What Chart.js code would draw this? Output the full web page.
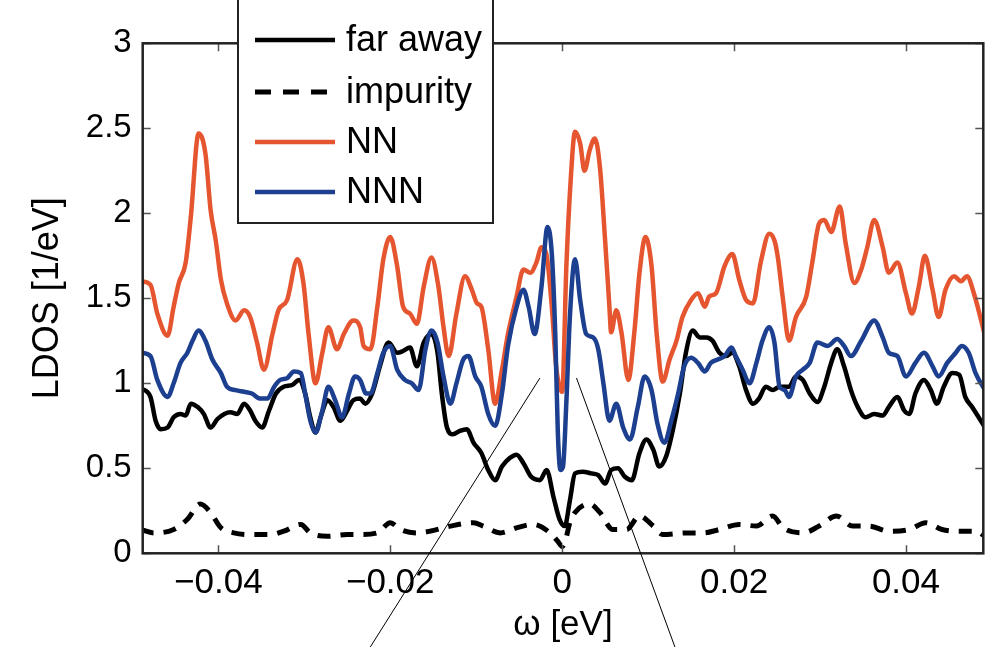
<!DOCTYPE html>
<html>
<head>
<meta charset="utf-8">
<script src="https://cdn.jsdelivr.net/npm/chart.js@4/dist/chart.umd.min.js"></script>
<style>
  html, body { margin: 0; padding: 0; background: #fff; }
  #wrap { width: 1000px; height: 647px; }
</style>
</head>
<body>
<div id="wrap"><canvas id="myChart" width="1000" height="647"></canvas></div>
<script>
// omega [eV] and LDOS [1/eV] for each curve
const omegaFar = [
  -0.0490, -0.0479, -0.0473, -0.0467, -0.0459, -0.0452, -0.0444, -0.0438, -0.0432, -0.0424,
  -0.0417, -0.0409, -0.0401, -0.0393, -0.0386, -0.0378, -0.0370, -0.0363, -0.0357, -0.0349,
  -0.0341, -0.0333, -0.0324, -0.0314, -0.0306, -0.0299, -0.0293, -0.0287, -0.0281, -0.0273,
  -0.0266, -0.0258, -0.0250, -0.0243, -0.0235, -0.0229, -0.0221, -0.0212, -0.0202, -0.0192,
  -0.0185, -0.0177, -0.0169, -0.0161, -0.0152, -0.0145, -0.0140, -0.0134, -0.0127, -0.0119,
  -0.0111, -0.0103, -0.0094, -0.0086, -0.0078, -0.0070, -0.0061, -0.0053, -0.0045, -0.0036,
  -0.0026, -0.0018, -0.0010, -0.0003, 0.0003, 0.0009, 0.0015, 0.0024, 0.0034, 0.0042,
  0.0050, 0.0057, 0.0065, 0.0073, 0.0081, 0.0090, 0.0098, 0.0106, 0.0113, 0.0121,
  0.0129, 0.0137, 0.0144, 0.0152, 0.0160, 0.0168, 0.0175, 0.0183, 0.0191, 0.0198,
  0.0206, 0.0214, 0.0222, 0.0229, 0.0237, 0.0245, 0.0253, 0.0264, 0.0272, 0.0280,
  0.0288, 0.0297, 0.0305, 0.0313, 0.0320, 0.0328, 0.0336, 0.0344, 0.0353, 0.0363,
  0.0373, 0.0380, 0.0390, 0.0398, 0.0404, 0.0411, 0.0421, 0.0429, 0.0436, 0.0444,
  0.0454, 0.0462, 0.0469, 0.0477, 0.0492
];
const ldosFar = [
  0.97, 0.92, 0.78, 0.73, 0.74, 0.80, 0.82, 0.81, 0.88, 0.86,
  0.82, 0.74, 0.79, 0.82, 0.83, 0.82, 0.88, 0.84, 0.78, 0.74,
  0.84, 0.94, 0.98, 0.99, 1.02, 0.94, 0.80, 0.71, 0.80, 0.90,
  0.86, 0.78, 0.84, 0.90, 0.91, 0.88, 0.94, 1.10, 1.24, 1.18,
  1.19, 1.21, 1.10, 1.24, 1.29, 1.18, 0.94, 0.74, 0.70, 0.72,
  0.73, 0.65, 0.59, 0.49, 0.43, 0.51, 0.56, 0.58, 0.53, 0.45,
  0.43, 0.49, 0.33, 0.20, 0.16, 0.31, 0.47, 0.48, 0.47, 0.46,
  0.41, 0.49, 0.50, 0.45, 0.43, 0.59, 0.67, 0.61, 0.51, 0.57,
  0.73, 0.94, 1.18, 1.31, 1.27, 1.27, 1.25, 1.18, 1.16, 1.18,
  1.10, 0.96, 0.88, 0.91, 0.98, 0.96, 0.98, 0.98, 1.04, 1.02,
  0.94, 0.89, 0.98, 1.12, 1.20, 1.10, 0.96, 0.86, 0.80, 0.82,
  0.81, 0.86, 0.92, 0.84, 0.82, 0.94, 1.02, 0.96, 0.88, 0.98,
  1.06, 1.05, 0.92, 0.86, 0.74
];

const omegaImp = [
  -0.0490, -0.0475, -0.0452, -0.0436, -0.0421, -0.0409, -0.0397, -0.0382, -0.0363, -0.0339,
  -0.0324, -0.0304, -0.0293, -0.0273, -0.0250, -0.0235, -0.0215, -0.0200, -0.0188, -0.0169,
  -0.0154, -0.0130, -0.0103, -0.0092, -0.0072, -0.0053, -0.0034, -0.0014, -0.0005, 0.0000,
  0.0004, 0.0009, 0.0015, 0.0032, 0.0044, 0.0059, 0.0075, 0.0090, 0.0106, 0.0117,
  0.0144, 0.0164, 0.0183, 0.0206, 0.0226, 0.0245, 0.0257, 0.0280, 0.0299, 0.0319,
  0.0338, 0.0357, 0.0380, 0.0404, 0.0423, 0.0442, 0.0462, 0.0481, 0.0492
];
const ldosImp = [
  0.14, 0.12, 0.14, 0.20, 0.29, 0.24, 0.15, 0.12, 0.11, 0.11,
  0.13, 0.17, 0.12, 0.10, 0.11, 0.11, 0.12, 0.18, 0.14, 0.12,
  0.13, 0.16, 0.18, 0.16, 0.12, 0.15, 0.17, 0.12, 0.07, 0.04,
  0.08, 0.18, 0.24, 0.29, 0.24, 0.14, 0.14, 0.22, 0.16, 0.11,
  0.12, 0.12, 0.14, 0.17, 0.16, 0.22, 0.15, 0.12, 0.16, 0.22,
  0.16, 0.16, 0.13, 0.14, 0.18, 0.14, 0.13, 0.13, 0.10
];

const omegaNN = [
  -0.0490, -0.0479, -0.0471, -0.0459, -0.0452, -0.0446, -0.0438, -0.0432, -0.0423, -0.0415,
  -0.0409, -0.0403, -0.0397, -0.0390, -0.0380, -0.0370, -0.0363, -0.0355, -0.0347, -0.0337,
  -0.0330, -0.0320, -0.0308, -0.0301, -0.0295, -0.0287, -0.0279, -0.0272, -0.0262, -0.0254,
  -0.0243, -0.0235, -0.0231, -0.0223, -0.0215, -0.0208, -0.0200, -0.0192, -0.0185, -0.0177,
  -0.0169, -0.0161, -0.0152, -0.0144, -0.0138, -0.0132, -0.0123, -0.0113, -0.0105, -0.0099,
  -0.0094, -0.0086, -0.0078, -0.0070, -0.0063, -0.0053, -0.0045, -0.0037, -0.0030, -0.0024,
  -0.0018, -0.0012, -0.0007, 0.0000, 0.0005, 0.0010, 0.0015, 0.0021, 0.0026, 0.0032,
  0.0038, 0.0044, 0.0050, 0.0055, 0.0057, 0.0063, 0.0069, 0.0077, 0.0084, 0.0090,
  0.0097, 0.0104, 0.0110, 0.0117, 0.0125, 0.0133, 0.0140, 0.0150, 0.0158, 0.0166,
  0.0171, 0.0179, 0.0189, 0.0198, 0.0206, 0.0214, 0.0222, 0.0231, 0.0241, 0.0247,
  0.0251, 0.0257, 0.0264, 0.0272, 0.0284, 0.0291, 0.0299, 0.0305, 0.0313, 0.0323,
  0.0330, 0.0340, 0.0348, 0.0355, 0.0363, 0.0373, 0.0380, 0.0390, 0.0400, 0.0407,
  0.0415, 0.0422, 0.0431, 0.0438, 0.0446, 0.0456, 0.0464, 0.0471, 0.0479, 0.0492
];
const ldosNN = [
  1.60, 1.58, 1.41, 1.28, 1.45, 1.59, 1.71, 1.98, 2.47, 2.35,
  2.02, 1.84, 1.61, 1.47, 1.37, 1.43, 1.39, 1.24, 1.08, 1.29,
  1.43, 1.49, 1.73, 1.59, 1.29, 1.00, 1.18, 1.33, 1.20, 1.29,
  1.37, 1.33, 1.22, 1.20, 1.45, 1.73, 1.86, 1.69, 1.45, 1.41,
  1.35, 1.57, 1.74, 1.57, 1.33, 1.16, 1.41, 1.63, 1.55, 1.47,
  1.45, 1.20, 0.88, 1.08, 1.29, 1.51, 1.67, 1.65, 1.71, 1.80,
  1.75, 1.45, 1.10, 0.95, 1.70, 2.20, 2.48, 2.41, 2.25, 2.37,
  2.44, 2.27, 1.84, 1.45, 1.30, 1.43, 1.30, 1.02, 1.30, 1.65,
  1.86, 1.69, 1.29, 1.01, 1.14, 1.25, 1.39, 1.49, 1.53, 1.45,
  1.51, 1.53, 1.69, 1.76, 1.61, 1.49, 1.47, 1.71, 1.88, 1.84,
  1.74, 1.49, 1.25, 1.39, 1.51, 1.71, 1.94, 1.96, 1.89, 2.04,
  1.82, 1.59, 1.67, 1.80, 1.96, 1.80, 1.65, 1.71, 1.53, 1.41,
  1.57, 1.75, 1.55, 1.39, 1.55, 1.63, 1.60, 1.63, 1.53, 1.28
];

const omegaNNN = [
  -0.0490, -0.0479, -0.0471, -0.0459, -0.0452, -0.0444, -0.0436, -0.0430, -0.0423, -0.0415,
  -0.0407, -0.0397, -0.0390, -0.0380, -0.0370, -0.0361, -0.0351, -0.0343, -0.0335, -0.0328,
  -0.0320, -0.0312, -0.0304, -0.0299, -0.0293, -0.0287, -0.0279, -0.0272, -0.0264, -0.0256,
  -0.0248, -0.0241, -0.0235, -0.0228, -0.0223, -0.0215, -0.0208, -0.0200, -0.0192, -0.0183,
  -0.0175, -0.0167, -0.0159, -0.0152, -0.0145, -0.0138, -0.0130, -0.0123, -0.0115, -0.0109,
  -0.0101, -0.0094, -0.0086, -0.0078, -0.0070, -0.0063, -0.0053, -0.0045, -0.0039, -0.0032,
  -0.0024, -0.0017, -0.0012, -0.0008, -0.0005, -0.0002, 0.0001, 0.0005, 0.0009, 0.0015,
  0.0021, 0.0028, 0.0036, 0.0042, 0.0048, 0.0055, 0.0063, 0.0071, 0.0079, 0.0088,
  0.0096, 0.0104, 0.0111, 0.0119, 0.0127, 0.0135, 0.0142, 0.0150, 0.0158, 0.0166,
  0.0173, 0.0181, 0.0189, 0.0197, 0.0202, 0.0210, 0.0218, 0.0226, 0.0233, 0.0241,
  0.0247, 0.0253, 0.0259, 0.0264, 0.0272, 0.0280, 0.0288, 0.0297, 0.0309, 0.0320,
  0.0328, 0.0336, 0.0348, 0.0363, 0.0373, 0.0380, 0.0390, 0.0400, 0.0411, 0.0421,
  0.0431, 0.0438, 0.0448, 0.0458, 0.0465, 0.0473, 0.0481, 0.0492
];
const ldosNNN = [
  1.18, 1.16, 1.02, 0.92, 1.00, 1.12, 1.18, 1.25, 1.31, 1.25,
  1.14, 1.06, 0.98, 0.96, 0.95, 0.94, 0.91, 0.91, 0.98, 1.02,
  1.03, 1.07, 1.06, 0.94, 0.78, 0.71, 0.84, 0.98, 0.90, 0.80,
  0.94, 1.04, 1.02, 0.94, 0.94, 1.06, 1.18, 1.22, 1.08, 1.02,
  1.00, 0.96, 1.20, 1.31, 1.24, 1.04, 0.88, 1.00, 1.14, 1.16,
  1.04, 0.98, 0.82, 0.75, 0.94, 1.22, 1.45, 1.55, 1.45, 1.29,
  1.57, 1.92, 1.76, 1.29, 0.71, 0.49, 0.51, 0.90, 1.39, 1.73,
  1.49, 1.29, 1.27, 1.20, 1.00, 0.78, 0.88, 0.74, 0.67, 0.86,
  1.04, 0.96, 0.76, 0.65, 0.78, 0.94, 1.10, 1.15, 1.12, 1.07,
  1.12, 1.14, 1.16, 1.21, 1.16, 1.08, 1.00, 1.12, 1.25, 1.33,
  1.24, 0.98, 0.96, 0.92, 1.04, 1.08, 1.12, 1.24, 1.22, 1.26,
  1.22, 1.16, 1.25, 1.37, 1.27, 1.18, 1.16, 1.04, 1.12, 1.18,
  1.10, 1.04, 1.12, 1.18, 1.22, 1.18, 1.06, 0.96
];

// axis ticks
const xTicks = [-0.04, -0.02, 0, 0.02, 0.04];
const xTickLabels = ['\u22120.04', '\u22120.02', '0', '0.02', '0.04'];
const yTicks = [0, 0.5, 1, 1.5, 2, 2.5, 3];
const yTickLabels = ['0', '0.5', '1', '1.5', '2', '2.5', '3'];

// the two thin zoom lines (omega, LDOS), start -> end
const zoomLines = [
  [-0.00259, 1.031, -0.02232, -0.551],
  [0.00167, 1.031, 0.01312, -0.551]
];

const FONT = "'Liberation Sans', Arial, Helvetica, sans-serif";

function toPoints(xs, ys) {
  return xs.map((x, i) => ({ x: x, y: ys[i] }));
}

// box, inward ticks, zoom lines and the legend
const framePlugin = {
  id: 'frame',
  afterDatasetsDraw(chart) {
    const ctx = chart.ctx;
    const a = chart.chartArea;
    const xs = chart.scales.x;
    const ys = chart.scales.y;
    ctx.save();

    // inward tick marks on all four sides
    ctx.strokeStyle = '#555';
    ctx.lineWidth = 1.5;
    const tl = 8;
    ctx.beginPath();
    xTicks.forEach(v => {
      const px = Math.round(xs.getPixelForValue(v)) + 0.5;
      ctx.moveTo(px, a.bottom); ctx.lineTo(px, a.bottom - tl);
      ctx.moveTo(px, a.top); ctx.lineTo(px, a.top + tl);
    });
    yTicks.forEach(v => {
      const py = Math.round(ys.getPixelForValue(v)) + 0.5;
      ctx.moveTo(a.left, py); ctx.lineTo(a.left + tl, py);
      ctx.moveTo(a.right, py); ctx.lineTo(a.right - tl, py);
    });
    ctx.stroke();

    // box
    ctx.strokeStyle = '#222';
    ctx.lineWidth = 2.5;
    ctx.strokeRect(a.left, a.top, a.right - a.left, a.bottom - a.top);

    // zoom lines
    ctx.strokeStyle = '#000';
    ctx.lineWidth = 1;
    zoomLines.forEach(l => {
      ctx.beginPath();
      ctx.moveTo(xs.getPixelForValue(l[0]), ys.getPixelForValue(l[1]));
      ctx.lineTo(xs.getPixelForValue(l[2]), ys.getPixelForValue(l[3]));
      ctx.stroke();
    });

    // legend
    const lx = 238, ly = -3, lw = 255, lh = 226;
    ctx.fillStyle = '#fff';
    ctx.fillRect(lx, ly, lw, lh);
    ctx.strokeStyle = '#222';
    ctx.lineWidth = 2;
    ctx.strokeRect(lx, ly, lw, lh);
    const rows = [40, 92, 142, 192];
    ctx.font = '36px ' + FONT;
    ctx.textBaseline = 'middle';
    ctx.textAlign = 'left';
    chart.data.datasets.forEach((ds, i) => {
      const y = rows[i];
      ctx.strokeStyle = ds.borderColor;
      ctx.lineWidth = ds.borderWidth;
      ctx.setLineDash(ds.borderDash ? [16, 12] : []);
      ctx.beginPath();
      ctx.moveTo(255, y);
      ctx.lineTo(335, y);
      ctx.stroke();
      ctx.setLineDash([]);
      ctx.fillStyle = '#000';
      ctx.fillText(ds.label, 346, y + 1);
    });
    ctx.restore();
  }
};

const ctx = document.getElementById('myChart').getContext('2d');
const chart = new Chart(ctx, {
  type: 'line',
  data: {
    datasets: [
      {
        label: 'far away',
        data: toPoints(omegaFar, ldosFar),
        borderColor: '#000000',
        borderWidth: 4.5,
        order: 4
      },
      {
        label: 'impurity',
        data: toPoints(omegaImp, ldosImp),
        borderColor: '#000000',
        borderWidth: 5,
        borderDash: [13, 10],
        borderCapStyle: 'butt',
        order: 3
      },
      {
        label: 'NN',
        data: toPoints(omegaNN, ldosNN),
        borderColor: '#E5552F',
        borderWidth: 4.5,
        order: 2
      },
      {
        label: 'NNN',
        data: toPoints(omegaNNN, ldosNNN),
        borderColor: '#1C3F8F',
        borderWidth: 4.5,
        order: 1
      }
    ]
  },
  options: {
    responsive: false,
    animation: false,
    devicePixelRatio: 1,
    layout: { padding: { left: 0, right: 16.7, top: 43.3, bottom: 0 } },
    elements: {
      point: { radius: 0 },
      line: {
        cubicInterpolationMode: 'monotone',
        borderJoinStyle: 'round',
        borderCapStyle: 'round',
        fill: false
      }
    },
    plugins: {
      legend: { display: false },
      tooltip: { enabled: false }
    },
    scales: {
      x: {
        type: 'linear',
        min: -0.0488,
        max: 0.049,
        afterBuildTicks: s => { s.ticks = xTicks.map(v => ({ value: v })); },
        afterFit: s => { s.height = 93.7; },
        grid: { display: false, drawTicks: false },
        border: { display: false },
        ticks: {
          autoSkip: false,
          maxRotation: 0,
          padding: 9,
          color: '#000',
          font: { family: FONT, size: 35 },
          callback: (v, i) => xTickLabels[i]
        },
        title: {
          display: true,
          text: '\u03c9 [eV]',
          color: '#000',
          font: { family: FONT, size: 35 },
          padding: { top: 0, bottom: 1 }
        }
      },
      y: {
        type: 'linear',
        min: 0,
        max: 3,
        afterBuildTicks: s => { s.ticks = yTicks.map(v => ({ value: v })); },
        afterFit: s => { s.width = 142.7; },
        grid: { display: false, drawTicks: false },
        border: { display: false },
        ticks: {
          padding: 11,
          color: '#000',
          font: { family: FONT, size: 33 },
          callback: (v, i) => yTickLabels[i]
        },
        title: {
          display: true,
          text: 'LDOS [1/eV]',
          color: '#000',
          font: { family: FONT, size: 36 },
          padding: { top: 26, bottom: 0 }
        }
      }
    }
  },
  plugins: [framePlugin]
});
</script>
</body>
</html>
